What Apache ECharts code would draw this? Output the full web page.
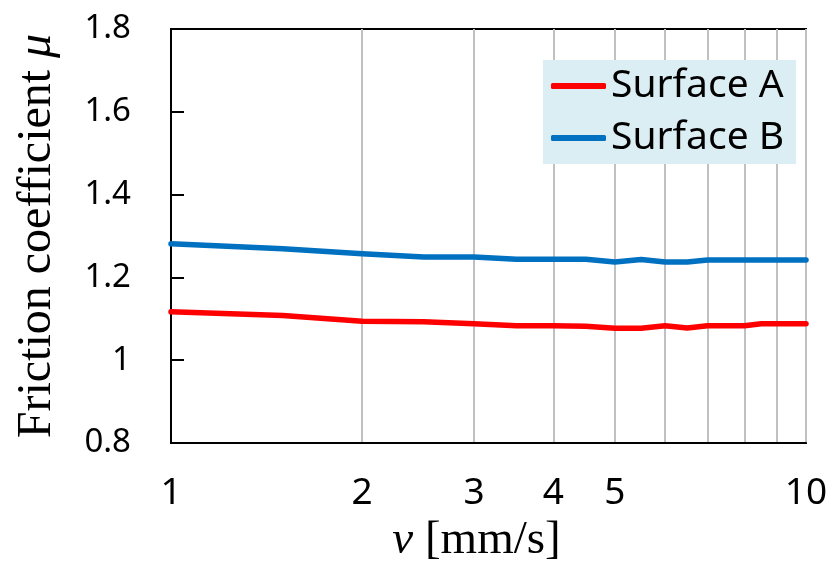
<!DOCTYPE html>
<html>
<head>
<meta charset="utf-8">
<script src="https://cdn.jsdelivr.net/npm/echarts@6/dist/echarts.min.js"></script>
<style>
  html, body { margin: 0; padding: 0; background: #fff; }
  #chart { width: 833px; height: 566px; }
</style>
</head>
<body>
<div id="chart"></div>
<script>
// Sliding speed [mm/s]
const speeds = [1, 1.5, 2, 2.5, 3, 3.5, 4, 4.5, 5, 5.5, 6, 6.5, 7, 7.5, 8, 8.5, 9, 9.5, 10];
// Friction coefficient for each surface
const surfaceA = [1.117, 1.108, 1.094, 1.093, 1.088, 1.083, 1.083, 1.082, 1.077, 1.077,
                  1.083, 1.078, 1.083, 1.083, 1.083, 1.088, 1.088, 1.088, 1.088];
const surfaceB = [1.281, 1.269, 1.257, 1.249, 1.249, 1.244, 1.244, 1.244, 1.237, 1.243,
                  1.237, 1.237, 1.242, 1.242, 1.242, 1.242, 1.242, 1.242, 1.242];
const seriesNames = ['Surface A', 'Surface B'];
const xLabelValues = [1, 2, 3, 4, 5, 10];
const xGridValues = [1, 2, 3, 4, 5, 6, 7, 8, 9, 10];

const pairs = (xs, ys) => xs.map((x, i) => [x, ys[i]]);

const chart = echarts.init(document.getElementById('chart'), null, { renderer: 'canvas' });

chart.setOption({
  animation: false,
  backgroundColor: '#ffffff',
  grid: {
    left: 171, right: 27, top: 29, bottom: 123,
    outerBoundsMode: 'none',
    containLabel: false,
    show: true, borderColor: '#000', borderWidth: 2, backgroundColor: 'transparent'
  },
  legend: {
    orient: 'vertical',
    left: 543, top: 60,
    backgroundColor: '#DBEEF3',
    padding: [6, 12, 6, 8],
    itemGap: 12,
    itemWidth: 55,
    itemHeight: 6,
    icon: 'roundRect',
    textStyle: { fontFamily: 'Noto Sans', fontSize: 39, color: '#000', lineHeight: 40 },
    data: seriesNames
  },
  xAxis: {
    type: 'log',
    logBase: 10,
    min: 1, max: 10,
    name: '{i|v} [mm/s]',
    nameLocation: 'middle',
    nameGap: 74,
    nameTextStyle: {
      fontFamily: 'Liberation Serif', fontSize: 47, color: '#000',
      padding: [0, 24, 0, 0],
      rich: { i: { fontFamily: 'Liberation Serif', fontStyle: 'italic', fontSize: 47, color: '#000' } }
    },
    axisLine: { show: true, lineStyle: { color: '#000', width: 2 } },
    axisTick: { show: false, customValues: xGridValues },
    axisLabel: {
      customValues: xLabelValues,
      fontFamily: 'Noto Sans', fontSize: 37, color: '#000', margin: 32,
      formatter: v => String(Math.round(v))
    },
    splitLine: { show: true, lineStyle: { color: '#C0C0C0', width: 2 } },
    minorTick: { show: false },
    minorSplitLine: { show: false }
  },
  yAxis: {
    type: 'value',
    min: 0.8, max: 1.8, interval: 0.2,
    name: '{n|Friction coefficient }{i|μ}',
    nameLocation: 'middle',
    nameGap: 110,
    nameRotate: 90,
    nameTextStyle: {
      rich: {
        n: { fontFamily: 'Liberation Serif', fontSize: 48, color: '#000' },
        i: { fontFamily: 'Liberation Serif', fontStyle: 'italic', fontSize: 48, color: '#000' }
      }
    },
    axisLine: { show: true, lineStyle: { color: '#000', width: 2 } },
    axisTick: { show: true, inside: true, length: 13, lineStyle: { color: '#000', width: 2 } },
    axisLabel: {
      fontFamily: 'Noto Sans', fontSize: 33, color: '#000', margin: 40,
      formatter: v => (Math.round(v * 10) / 10).toString()
    },
    splitLine: { show: false }
  },
  series: [
    {
      name: seriesNames[0], type: 'line', data: pairs(speeds, surfaceA),
      showSymbol: false, symbol: 'none',
      lineStyle: { color: '#FF0000', width: 5.5, cap: 'round', join: 'round' },
      itemStyle: { color: '#FF0000' }, z: 3
    },
    {
      name: seriesNames[1], type: 'line', data: pairs(speeds, surfaceB),
      showSymbol: false, symbol: 'none',
      lineStyle: { color: '#0070C0', width: 5.5, cap: 'round', join: 'round' },
      itemStyle: { color: '#0070C0' }, z: 3
    }
  ]
});
</script>
</body>
</html>
